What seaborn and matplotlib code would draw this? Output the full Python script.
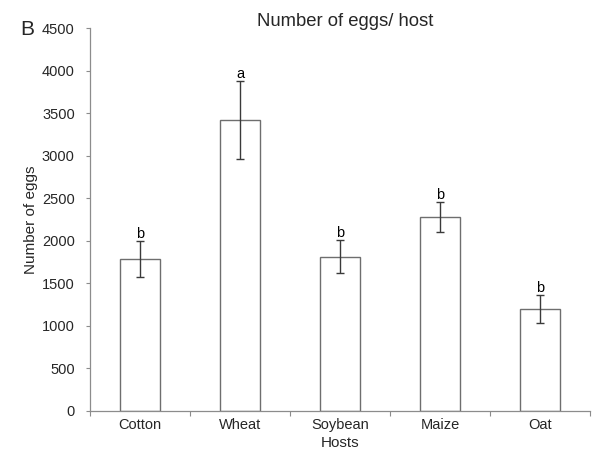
import matplotlib
matplotlib.use("Agg")
import matplotlib.pyplot as plt
import seaborn as sns
import pandas as pd

hosts = ["Cotton", "Wheat", "Soybean", "Maize", "Oat"]
eggs_mean = [1780, 3420, 1810, 2275, 1195]
eggs_err = [210, 460, 195, 175, 160]
letters = ["b", "a", "b", "b", "b"]

sns.set_style("white")
plt.rcParams["font.family"] = ["Liberation Sans", "DejaVu Sans"]

df = pd.DataFrame({"Hosts": hosts, "Eggs": eggs_mean})

fig = plt.figure(figsize=(6.11, 4.51), dpi=100)
ax = fig.add_axes([0.1473, 0.0894, 0.8183, 0.8485])

axis_col = "#8c8c8c"
sns.barplot(data=df, x="Hosts", y="Eggs", order=hosts, color="white",
            edgecolor="#6e6e6e", linewidth=1.0, width=0.4, errorbar=None, ax=ax)

xs = [p.get_x() + p.get_width() / 2 for p in ax.patches]
ax.errorbar(xs, eggs_mean, yerr=eggs_err, fmt="none", ecolor="#3a3a3a",
            elinewidth=1.0, capsize=3, capthick=1.0)

# significance letters sit just above each error cap
for x, m, e, t in zip(xs, eggs_mean, eggs_err, letters):
    ax.text(x, m + e + 35, t, ha="center", va="baseline", fontsize=10.5, color="black")

ax.set_ylim(0, 4500)
ax.set_yticks(range(0, 4501, 500))
ax.set_xlim(-0.5, 4.5)
ax.set_xticks([i - 0.5 for i in range(len(hosts) + 1)], minor=False)
ax.set_xticklabels([])
ax.set_xticks(range(len(hosts)), minor=True)
ax.set_xticklabels(hosts, minor=True)
ax.tick_params(axis="x", which="minor", bottom=False, length=0, labelsize=10.5, pad=5)
ax.tick_params(axis="x", which="major", bottom=True, length=3.5, color=axis_col,
               direction="out", width=0.8)
ax.tick_params(axis="y", left=True, length=3, color=axis_col, direction="out", width=0.8,
               labelsize=10.5, pad=8)

for s in ["top", "right"]:
    ax.spines[s].set_visible(False)
for s in ["left", "bottom"]:
    ax.spines[s].set_color(axis_col)
    ax.spines[s].set_linewidth(0.9)

ax.set_xlabel("Hosts", fontsize=11, labelpad=3)
ax.set_ylabel("Number of eggs", fontsize=11, labelpad=3)
ax.set_title("Number of eggs/ host", fontsize=13.3, pad=1.5, x=0.51)
fig.text(0.033, 0.935, "B", fontsize=15, ha="left", va="center")

fig.savefig("out.png", dpi=100)
